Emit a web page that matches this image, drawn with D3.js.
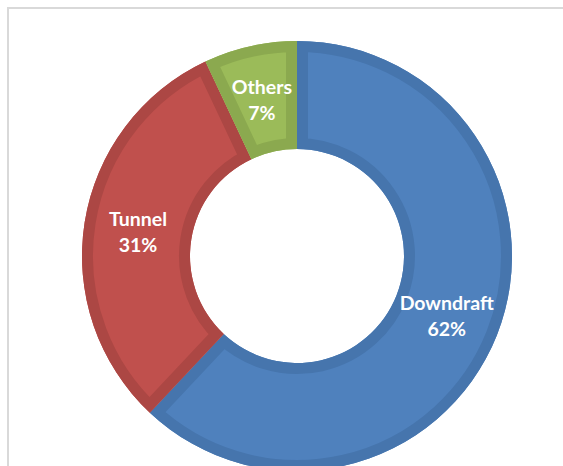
<!DOCTYPE html>
<html>
<head>
<meta charset="utf-8">
<script src="https://cdn.jsdelivr.net/npm/d3@7"></script>
<style>
  html, body { margin: 0; padding: 0; background: #fff; overflow: hidden; }
  svg { display: block; }
</style>
</head>
<body>
<svg id="chart" width="563" height="466"></svg>
<script>
// Share of kiln types
const categories = ["Downdraft", "Tunnel", "Others"];
const shares = [62, 31, 7];
const fills = ["#4F81BD", "#C0504D", "#9BBB59"];
const edges = ["#4675AD", "#AC4744", "#8BA94F"];

const svg = d3.select("#chart");

// chart frame
svg.append("rect")
  .attr("x", 8).attr("y", 8)
  .attr("width", 600).attr("height", 500)
  .attr("fill", "#fff")
  .attr("stroke", "#D9D9D9")
  .attr("stroke-width", 2);

const cx = 297, cy = 256;
const rOuter = 215, rInner = 107;
const edgeWidth = 11;

const data = categories.map((c, i) => ({ name: c, value: shares[i], fill: fills[i], edge: edges[i] }));

const pie = d3.pie().value(d => d.value).sort(null);
const arc = d3.arc().innerRadius(rInner).outerRadius(rOuter);
const arcs = pie(data);

const g = svg.append("g").attr("transform", `translate(${cx},${cy})`);
const defs = svg.append("defs");

// clip shapes, one per slice, so each rim stays inside its own slice
defs.selectAll("clipPath").data(arcs).join("clipPath")
  .attr("id", (d, i) => "slice-clip-" + i)
  .append("path").attr("d", arc);

const slices = g.selectAll("g.slice").data(arcs).join("g").attr("class", "slice");
slices.append("path")
  .attr("d", arc)
  .attr("fill", d => d.data.fill);
slices.append("path")
  .attr("d", arc)
  .attr("fill", "none")
  .attr("stroke", d => d.data.edge)
  .attr("stroke-width", edgeWidth * 2)
  .attr("stroke-linejoin", "miter")
  .attr("clip-path", (d, i) => `url(#slice-clip-${i})`);

// labels at slice centroids
const rMid = (rInner + rOuter) / 2;
const labelArc = d3.arc().innerRadius(rMid).outerRadius(rMid);
const labels = g.selectAll("text.lbl").data(arcs).join("text")
  .attr("class", "lbl")
  .attr("transform", d => {
    const [x, y] = labelArc.centroid(d);
    return `translate(${x},${y + 1})`;
  })
  .attr("text-anchor", "middle")
  .attr("fill", "#fff")
  .attr("font-family", "Lato, 'Open Sans', sans-serif")
  .attr("font-weight", "bold")
  .attr("font-size", 19.5);
labels.append("tspan").attr("x", 0).attr("y", -6).text(d => d.data.name);
labels.append("tspan").attr("x", 0).attr("y", 20).text(d => d.data.value + "%");
</script>
</body>
</html>
